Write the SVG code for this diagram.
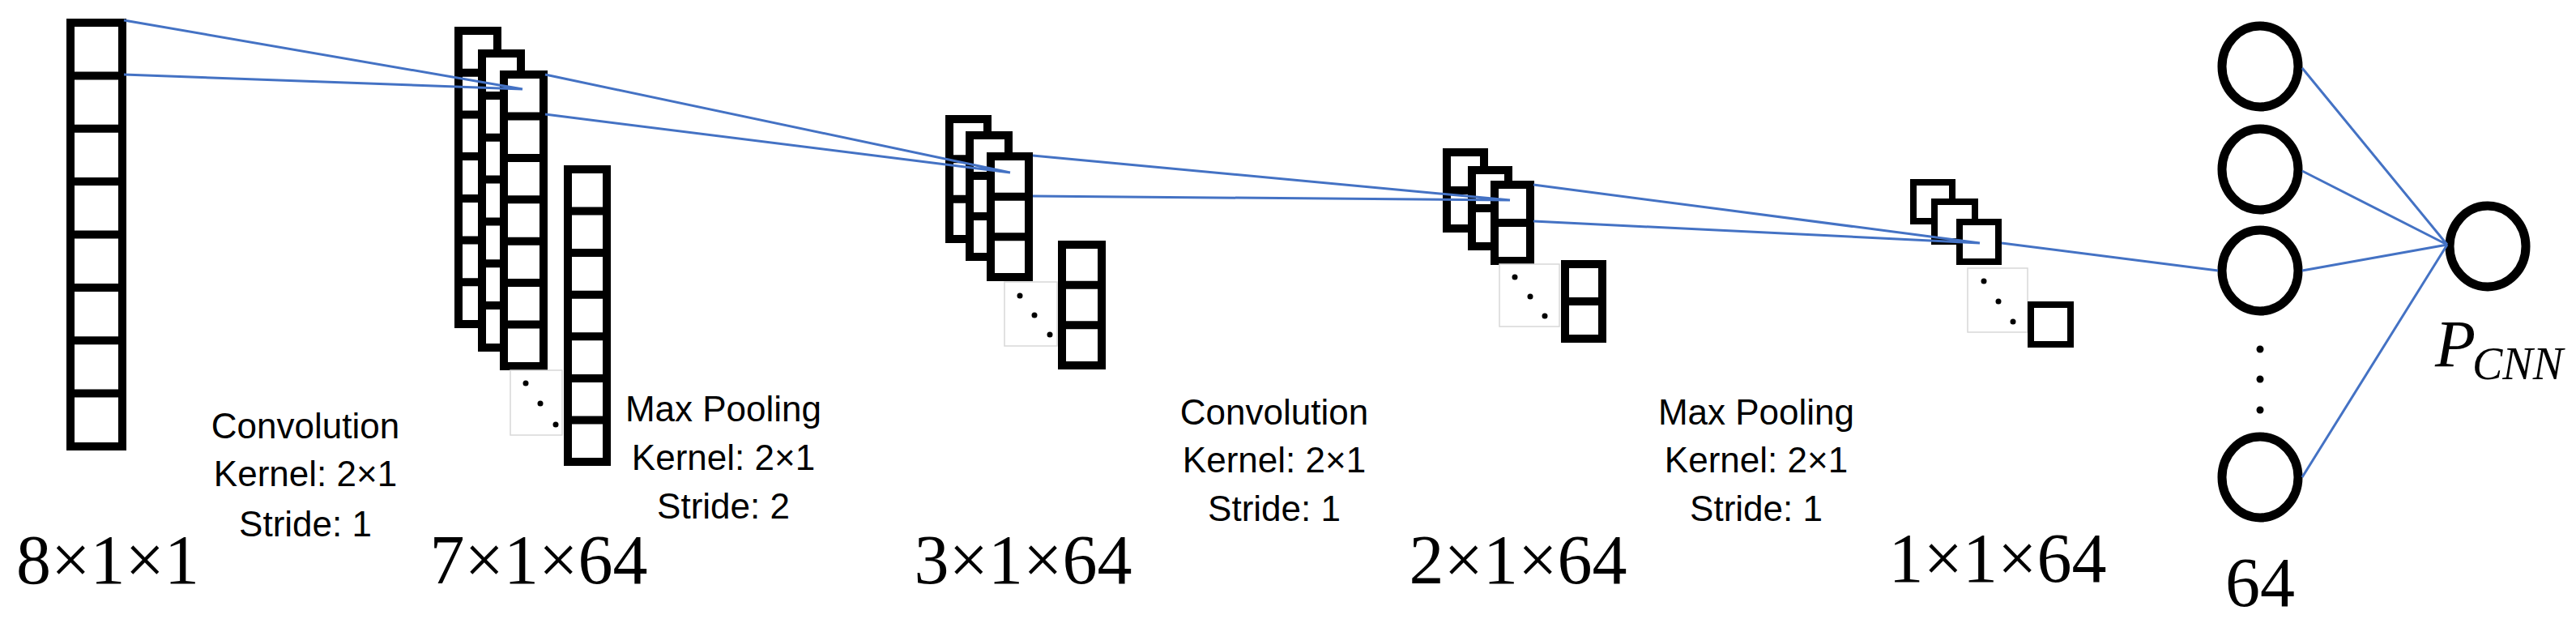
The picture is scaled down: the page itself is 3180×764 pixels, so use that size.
<svg xmlns="http://www.w3.org/2000/svg" width="3180" height="764" viewBox="0 0 3180 764">
<style>
.c{fill:#fff;stroke:#000;stroke-width:10}
.d{stroke:#000;stroke-width:10}
.s{fill:#fff;stroke:#000;stroke-width:8}
.n{fill:#fff;stroke:#000;stroke-width:11}
.g{fill:#fff;stroke:#d8d8d8;stroke-width:1.5}
.k{fill:#000}
.l{stroke:#4472C4;stroke-width:3;fill:none}
.t{font-family:"Liberation Sans",Arial,sans-serif;font-size:44px;text-anchor:middle;fill:#000}
.m{font-family:"Liberation Serif","Times New Roman",serif;font-size:86px;text-anchor:middle;fill:#000}
</style>
<g id="input">
<rect class="c" x="87" y="28" width="64" height="523"/>
<path class="d" d="M87 93.4H151M87 158.8H151M87 224.1H151M87 289.5H151M87 354.9H151M87 420.3H151M87 485.6H151"/>
</g>
<g id="layer1">
<rect class="c" x="566" y="38" width="48" height="362"/>
<path class="d" d="M566 89.7H614M566 141.4H614M566 193.1H614M566 244.9H614M566 296.6H614M566 348.3H614"/>
<rect class="c" x="595" y="66" width="48" height="363"/>
<path class="d" d="M595 117.9H643M595 169.7H643M595 221.6H643M595 273.4H643M595 325.3H643M595 377.1H643"/>
<rect class="c" x="622" y="92" width="49" height="360"/>
<path class="d" d="M622 143.4H671M622 194.9H671M622 246.3H671M622 297.7H671M622 349.1H671M622 400.6H671"/>
<rect class="g" x="630" y="457" width="64" height="80"/>
<circle class="k" cx="649" cy="473" r="3.5"/><circle class="k" cx="667" cy="498" r="3.5"/><circle class="k" cx="686" cy="524" r="3.5"/>
<rect class="c" x="701" y="209" width="48" height="361"/>
<path class="d" d="M701 260.6H749M701 312.1H749M701 363.7H749M701 415.3H749M701 466.9H749M701 518.4H749"/>
</g>
<g id="layer2">
<rect class="c" x="1172" y="147" width="47" height="148"/>
<path class="d" d="M1172 196.3H1219M1172 245.7H1219"/>
<rect class="c" x="1197" y="167" width="48" height="150"/>
<path class="d" d="M1197 217H1245M1197 267H1245"/>
<rect class="c" x="1223" y="193" width="47" height="149"/>
<path class="d" d="M1223 242.7H1270M1223 292.3H1270"/>
<rect class="g" x="1240" y="348" width="65" height="79"/>
<circle class="k" cx="1259" cy="365" r="3.5"/><circle class="k" cx="1277" cy="389" r="3.5"/><circle class="k" cx="1296" cy="413" r="3.5"/>
<rect class="c" x="1311" y="302" width="49" height="149"/>
<path class="d" d="M1311 351.7H1360M1311 401.3H1360"/>
</g>
<g id="layer3">
<rect class="c" x="1786" y="188" width="46" height="94"/>
<path class="d" d="M1786 235H1832"/>
<rect class="c" x="1817" y="210" width="45" height="94"/>
<path class="d" d="M1817 257H1862"/>
<rect class="c" x="1845" y="228" width="44" height="94"/>
<path class="d" d="M1845 275H1889"/>
<rect class="g" x="1851" y="326" width="74" height="77"/>
<circle class="k" cx="1870" cy="342" r="3.5"/><circle class="k" cx="1889" cy="366" r="3.5"/><circle class="k" cx="1907" cy="390" r="3.5"/>
<rect class="c" x="1932" y="326" width="46" height="92"/>
<path class="d" d="M1932 372H1978"/>
</g>
<g id="layer4">
<rect class="s" x="2362" y="225" width="48" height="48"/>
<rect class="s" x="2388" y="249" width="50" height="49"/>
<rect class="s" x="2419" y="274" width="48" height="49"/>
<rect class="g" x="2429" y="331" width="74" height="79"/>
<circle class="k" cx="2449" cy="347" r="3.5"/><circle class="k" cx="2467" cy="372" r="3.5"/><circle class="k" cx="2485" cy="397" r="3.5"/>
<rect class="s" x="2507" y="376" width="49" height="49"/>
</g>
<g id="dense">
<ellipse class="n" cx="2790" cy="82" rx="47" ry="50"/>
<ellipse class="n" cx="2790" cy="209" rx="47" ry="50"/>
<ellipse class="n" cx="2790" cy="334" rx="47" ry="50"/>
<ellipse class="n" cx="2790" cy="589" rx="47" ry="50"/>
<circle class="k" cx="2790" cy="431" r="4.5"/><circle class="k" cx="2790" cy="468" r="4.5"/><circle class="k" cx="2790" cy="506" r="4.5"/>
</g>
<g id="output">
<ellipse class="n" cx="3071" cy="304" rx="47" ry="50"/>
</g>
<g id="connectors">
<path class="l" d="M153 25L645 110M153 92L645 110"/>
<path class="l" d="M673 92L1247 213M673 141L1247 213"/>
<path class="l" d="M1275 192L1864 247M1275 242L1864 247"/>
<path class="l" d="M1893 228L2444 300M1893 273L2444 300"/>
<path class="l" d="M2471 300L2738 334"/>
<path class="l" d="M2842 84L3021 302M2842 211L3021 302M2842 334L3021 302M2842 589L3021 302"/>
</g>
<g id="labels">
<text class="m" x="133" y="720">8×1×1</text>
<text class="m" x="665" y="720">7×1×64</text>
<text class="m" x="1263" y="720">3×1×64</text>
<text class="m" x="1874" y="720">2×1×64</text>
<text class="m" x="2466" y="718">1×1×64</text>
<text class="m" x="2790" y="748" font-size="80">64</text>
<text font-family="Liberation Serif,serif" font-style="italic" fill="#000"><tspan x="3006" y="452" font-size="82">P</tspan><tspan x="3052" y="468" font-size="56">CNN</tspan></text>
<text class="t" x="377" y="541">Convolution</text>
<text class="t" x="377" y="600">Kernel: 2×1</text>
<text class="t" x="377" y="662">Stride: 1</text>
<text class="t" x="893" y="520">Max Pooling</text>
<text class="t" x="893" y="580">Kernel: 2×1</text>
<text class="t" x="893" y="640">Stride: 2</text>
<text class="t" x="1573" y="524">Convolution</text>
<text class="t" x="1573" y="583">Kernel: 2×1</text>
<text class="t" x="1573" y="643">Stride: 1</text>
<text class="t" x="2168" y="524">Max Pooling</text>
<text class="t" x="2168" y="583">Kernel: 2×1</text>
<text class="t" x="2168" y="643">Stride: 1</text>
</g>
</svg>
